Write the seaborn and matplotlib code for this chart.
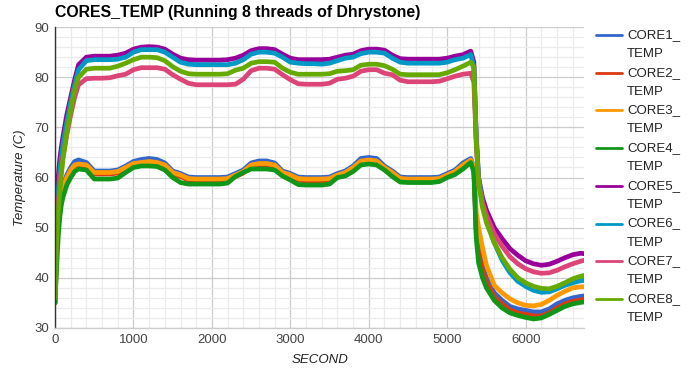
"""
CORES_TEMP (Running 8 threads of Dhrystone)
"""
import numpy as np
import pandas as pd
import matplotlib
matplotlib.use("Agg")
import matplotlib.pyplot as plt
from matplotlib.lines import Line2D
from matplotlib.ticker import MultipleLocator
import seaborn as sns

# 時間軸 (秒)
seconds = [0, 20, 40, 60, 80, 100, 150, 200, 250, 300,
           400, 500, 600, 700, 800, 900, 1000, 1100, 1200, 1300,
           1400, 1500, 1600, 1700, 1800, 1900, 2000, 2100, 2200, 2300,
           2400, 2500, 2600, 2700, 2800, 2900, 3000, 3100, 3200, 3300,
           3400, 3500, 3600, 3700, 3800, 3900, 4000, 4100, 4200, 4300,
           4400, 4500, 4600, 4700, 4800, 4900, 5000, 5100, 5200, 5300,
           5340, 5370, 5400, 5450, 5500, 5600, 5700, 5800, 5900, 6000,
           6100, 6200, 6300, 6400, 6500, 6600, 6700, 6750]

core1 = [35, 46, 52.5, 55.5, 57.5, 58.5, 60.5, 62, 63.2, 63.5,
         63, 61.3, 61.3, 61.3, 61.5, 62.3, 63.2, 63.6, 63.8, 63.6,
         62.9, 61.3, 60.8, 60.1, 60, 60, 60, 60, 60.1, 60.8,
         61.5, 62.9, 63.3, 63.3, 62.9, 61.3, 60.8, 60.1, 60, 60,
         60, 60.1, 60.8, 61.3, 62.3, 63.8, 64, 63.8, 62.3, 61.3,
         60.1, 60, 60, 60, 60, 60.1, 60.8, 61.5, 62.9, 63.8,
         62, 50, 46, 42.5, 40, 37, 35.5, 34.3, 33.8, 33.5,
         33.2, 33.2, 33.8, 34.8, 35.5, 36, 36.3, 36.4]
core2 = [35, 45, 52, 55, 57, 58, 60, 61.3, 62.2, 62.4,
         62.2, 60.7, 60.7, 60.7, 60.9, 61.7, 62.5, 62.7, 62.9, 62.7,
         62.2, 60.7, 60.2, 59.5, 59.2, 59.2, 59.2, 59.2, 59.4, 60.2,
         60.9, 62.2, 62.5, 62.5, 62.2, 60.7, 60.2, 59.5, 59.3, 59.3,
         59.3, 59.5, 60.2, 60.7, 61.7, 63, 63.2, 63, 61.7, 60.7,
         59.5, 59.3, 59.3, 59.3, 59.3, 59.5, 60.2, 60.9, 62.2, 63.2,
         61.5, 49, 45, 41.5, 39, 36.2, 34.8, 33.6, 33, 32.7,
         32.4, 32.4, 33, 34, 34.8, 35.3, 35.6, 35.7]
core3 = [35, 45, 52, 55, 57, 58, 60, 61.5, 62.5, 62.7,
         62.5, 61, 61, 61, 61.2, 62, 62.8, 63, 63.2, 63,
         62.5, 61, 60.5, 59.8, 59.7, 59.7, 59.7, 59.7, 59.8, 60.5,
         61.2, 62.5, 62.8, 62.8, 62.5, 61, 60.5, 59.8, 59.7, 59.7,
         59.7, 59.8, 60.5, 61, 62, 63.3, 63.5, 63.3, 62, 61,
         59.8, 59.7, 59.7, 59.7, 59.7, 59.8, 60.5, 61.2, 62.5, 63.5,
         62, 53, 50, 46, 42.5, 38.5, 37, 35.8, 35, 34.5,
         34.4, 34.7, 35.5, 36.5, 37.3, 38, 38.2, 38.2]
core4 = [35, 42, 48, 52, 54.5, 56, 58.5, 60, 61.2, 61.7,
         61.5, 59.7, 59.7, 59.7, 59.9, 61, 62, 62.3, 62.3, 62.2,
         61.5, 60, 59, 58.7, 58.7, 58.7, 58.7, 58.7, 58.9, 60.2,
         61, 61.7, 61.7, 61.7, 61.5, 60.3, 59.5, 58.6, 58.5, 58.5,
         58.5, 58.7, 60, 60.3, 61.2, 62.5, 62.7, 62.5, 61.5, 60.2,
         59.1, 59, 59, 59, 59, 59.2, 60, 60.6, 61.7, 63,
         61, 48, 43, 40, 38, 35.5, 34, 33, 32.5, 32.1,
         31.8, 32, 32.7, 33.5, 34.3, 34.8, 35.1, 35.2]
core5 = [44, 55, 60, 63.5, 66, 68, 72.5, 76, 79.5, 82.5,
         84, 84.2, 84.2, 84.2, 84.4, 84.8, 85.6, 86, 86.1, 86,
         85.6, 84.6, 83.8, 83.5, 83.4, 83.4, 83.4, 83.4, 83.5, 83.8,
         84.4, 85.3, 85.7, 85.7, 85.5, 84.6, 83.8, 83.5, 83.5, 83.5,
         83.5, 83.6, 84, 84.4, 84.6, 85.3, 85.6, 85.6, 85.4, 84.4,
         83.7, 83.6, 83.6, 83.6, 83.6, 83.6, 83.8, 84.2, 84.5, 85.2,
         83, 68, 60, 56, 53.5, 50, 47.8, 45.8, 44.5, 43.4,
         42.8, 42.5, 42.7, 43.3, 44, 44.6, 44.9, 44.8]
core6 = [38, 50, 57, 61, 64, 66.5, 71, 75, 78.5, 81.5,
         83.3, 83.5, 83.5, 83.5, 83.6, 84, 85, 85.5, 85.5, 85.5,
         85, 84, 83, 82.6, 82.5, 82.5, 82.5, 82.5, 82.5, 82.8,
         83.5, 84.6, 85, 85, 84.8, 84, 83, 82.8, 82.7, 82.7,
         82.6, 82.8, 83.3, 83.8, 84, 84.7, 85, 85, 84.8, 83.8,
         83, 82.8, 82.8, 82.8, 82.8, 82.8, 83, 83.5, 83.8, 84.5,
         82, 68, 60, 55, 51.5, 47, 43.5, 41, 39.3, 38.3,
         37.5, 37.1, 37.2, 37.8, 38.5, 39, 39.4, 39.5]
core7 = [40, 50, 55, 58.5, 61.5, 64, 68.5, 72.5, 76, 78.5,
         79.7, 79.8, 79.8, 79.9, 80.3, 80.6, 81.5, 81.9, 81.9, 81.9,
         81.6, 80.5, 79.6, 78.8, 78.5, 78.5, 78.5, 78.5, 78.5, 78.6,
         79.6, 81.3, 81.8, 81.8, 81.6, 80.5, 79.5, 78.7, 78.6, 78.6,
         78.6, 78.8, 79.6, 79.8, 80.2, 81.2, 81.5, 81.5, 80.8, 80.5,
         79.4, 79.1, 79.1, 79.1, 79.1, 79.2, 79.7, 80.2, 80.6, 80.8,
         79, 67, 59, 55, 52.5, 48.8, 46.3, 44.2, 42.8, 41.8,
         41.2, 40.9, 41, 41.5, 42.2, 42.8, 43.3, 43.5]
core8 = [36, 47, 53, 57, 60.5, 63.5, 69, 73.5, 77.5, 80,
         81.6, 81.8, 81.8, 81.8, 82.2, 82.8, 83.5, 84, 84, 83.9,
         83.3, 82.1, 81.2, 80.7, 80.6, 80.6, 80.6, 80.6, 80.7, 81.4,
         81.8, 82.8, 83.1, 83.1, 83, 81.8, 81, 80.6, 80.6, 80.6,
         80.6, 80.7, 81.2, 81.3, 81.5, 82.4, 82.6, 82.6, 82.3, 81.6,
         80.6, 80.5, 80.5, 80.5, 80.5, 80.5, 80.9, 81.5, 82.2, 83,
         82, 67, 59, 54, 51, 47, 44, 41.7, 40, 39,
         38.3, 37.9, 37.8, 38.3, 39, 39.8, 40.3, 40.5]

core_names = ["CORE1_TEMP", "CORE2_TEMP", "CORE3_TEMP", "CORE4_TEMP",
              "CORE5_TEMP", "CORE6_TEMP", "CORE7_TEMP", "CORE8_TEMP"]
core_values = [core1, core2, core3, core4, core5, core6, core7, core8]
colors = ["#3366cc", "#dc3912", "#ff9900", "#109618",
          "#990099", "#0099c6", "#dd4477", "#66aa00"]

# ロングフォーマットに変換
df = pd.concat([pd.DataFrame({"SECOND": seconds, "temp": vals, "core": name})
                for name, vals in zip(core_names, core_values)], ignore_index=True)

sns.set_theme(style="whitegrid")
plt.rcParams["font.family"] = ["Liberation Sans", "DejaVu Sans"]

fig = plt.figure(figsize=(6.93, 3.71), dpi=100)
ax = fig.add_axes([0.0794, 0.116, 0.764, 0.811])

sns.lineplot(data=df, x="SECOND", y="temp", hue="core", palette=colors,
             estimator=None, linewidth=3.4, legend=False, ax=ax)

ax.set_xlim(0, 6750)
ax.set_ylim(30, 90)
ax.xaxis.set_major_locator(MultipleLocator(1000))
ax.xaxis.set_minor_locator(MultipleLocator(200))
ax.yaxis.set_major_locator(MultipleLocator(10))
ax.yaxis.set_minor_locator(MultipleLocator(2))
ax.grid(which="major", color="#cccccc", linewidth=0.9)
ax.grid(which="minor", color="#ebebeb", linewidth=0.9)
ax.set_axisbelow(True)
ax.tick_params(which="both", length=0, labelsize=9.5, colors="#444444", pad=4)

for side in ["top", "right"]:
    ax.spines[side].set_visible(False)
ax.spines["left"].set_color("#333333")
ax.spines["left"].set_linewidth(1)
ax.spines["bottom"].set_color("#cccccc")
ax.spines["bottom"].set_linewidth(1)

ax.set_xlabel("SECOND", fontstyle="italic", fontsize=9.5, color="#222222", labelpad=6)
ax.set_ylabel("Temperature (C)", fontstyle="italic", fontsize=9.5, color="#222222", labelpad=6)

fig.text(55 / 693, 1 - 13 / 371, "CORES_TEMP (Running 8 threads of Dhrystone)",
         fontsize=11.4, fontweight="bold", color="#000000", ha="left", va="center")

# 凡例 (手動配置)
for i, (name, col) in enumerate(zip(core_names, colors)):
    y = 1 - (35 + i * 37.7) / 371
    fig.add_artist(Line2D([596 / 693, 622 / 693], [y, y], color=col, linewidth=2,
                          transform=fig.transFigure))
    fig.text(627 / 693, y, name[:6], fontsize=9.5, color="#222222", ha="left", va="center")
    fig.text(627 / 693, y - 19 / 371, name[6:], fontsize=9.5, color="#222222",
             ha="left", va="center")

fig.savefig("out.png", dpi=100)
